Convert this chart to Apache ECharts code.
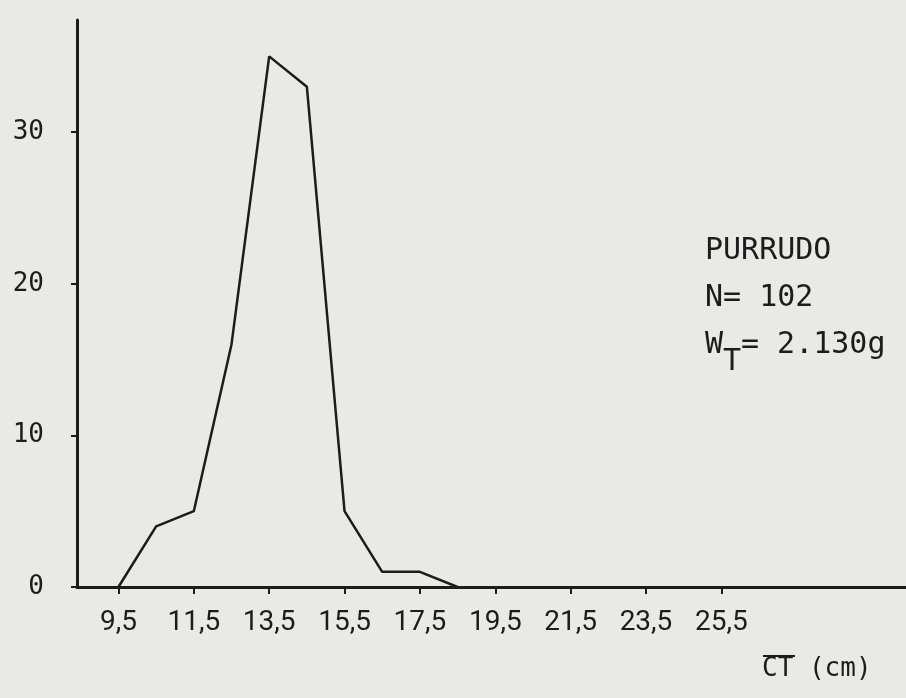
<!DOCTYPE html>
<html>
<head>
<meta charset="utf-8">
<script src="https://cdn.jsdelivr.net/npm/echarts@6/dist/echarts.min.js"></script>
<style>
  html, body { margin: 0; padding: 0; background: #e9e9e6; }
  #chart { width: 906px; height: 698px; }
</style>
</head>
<body>
<div id="chart"></div>
<script>
var $chart = document.getElementById('chart');
var myChart = echarts.init($chart);

// class midpoints (cm) and counts
var lengthCm = [9.5, 10.5, 11.5, 12.5, 13.5, 14.5, 15.5, 16.5, 17.5, 18.5];
var counts = [0, 4, 5, 16, 35, 33, 5, 1, 1, 0];
// tick labels
var xTicks = [9.5, 11.5, 13.5, 15.5, 17.5, 19.5, 21.5, 23.5, 25.5];
var yTicks = [0, 10, 20, 30];

var mono = 'DejaVu Sans Mono';
var ink = '#1c1c1c';

var points = lengthCm.map(function(x, i) {
  return [x, counts[i]];
});

// typed note on the right
function note(txt, left, top) {
  return {
    type: 'text',
    left: left,
    top: top,
    style: { text: txt, fill: ink, font: '30px ' + mono }
  };
}

var option = {
  backgroundColor: '#e9e9e6',
  animation: false,
  grid: { left: 77, right: 0, top: 20, bottom: 111 },
  xAxis: {
    type: 'value',
    min: 8.4,
    max: 30.4,
    axisLine: { onZero: false, lineStyle: { color: ink, width: 3 } },
    axisTick: {
      show: true,
      customValues: xTicks,
      length: 7,
      lineStyle: { color: ink, width: 2 }
    },
    axisLabel: {
      customValues: xTicks,
      color: ink,
      fontFamily: 'Roboto',
      fontSize: 28,
      margin: 22,
      formatter: function(v) {
        return String(v).replace('.', ',');
      }
    },
    splitLine: { show: false }
  },
  yAxis: {
    type: 'value',
    min: 0,
    max: 37.4,
    interval: 10,
    axisLine: { show: true, lineStyle: { color: ink, width: 3 } },
    axisTick: {
      show: true,
      customValues: yTicks,
      length: 6,
      lineStyle: { color: ink, width: 2 }
    },
    axisLabel: {
      customValues: yTicks,
      color: ink,
      fontFamily: mono,
      fontSize: 26,
      margin: 33,
      padding: [0, 0, 25, 0]
    },
    splitLine: { show: false }
  },
  series: [{
    type: 'line',
    data: points,
    symbol: 'none',
    lineStyle: { color: ink, width: 2.5 },
    z: 3
  }],
  graphic: [
    note('PURRUDO', 705, 236),
    note('N= 102', 705, 283),
    note('W', 705, 330),
    note('T', 723, 347),
    note('= 2.130g', 741, 330),
    {
      type: 'text',
      left: 762,
      top: 656,
      style: { text: 'CT (cm)', fill: ink, font: '26px ' + mono }
    },
    {
      type: 'line',
      shape: { x1: 763, y1: 656, x2: 795, y2: 656 },
      style: { stroke: ink, lineWidth: 2 }
    }
  ]
};

myChart.setOption(option);
</script>
</body>
</html>
